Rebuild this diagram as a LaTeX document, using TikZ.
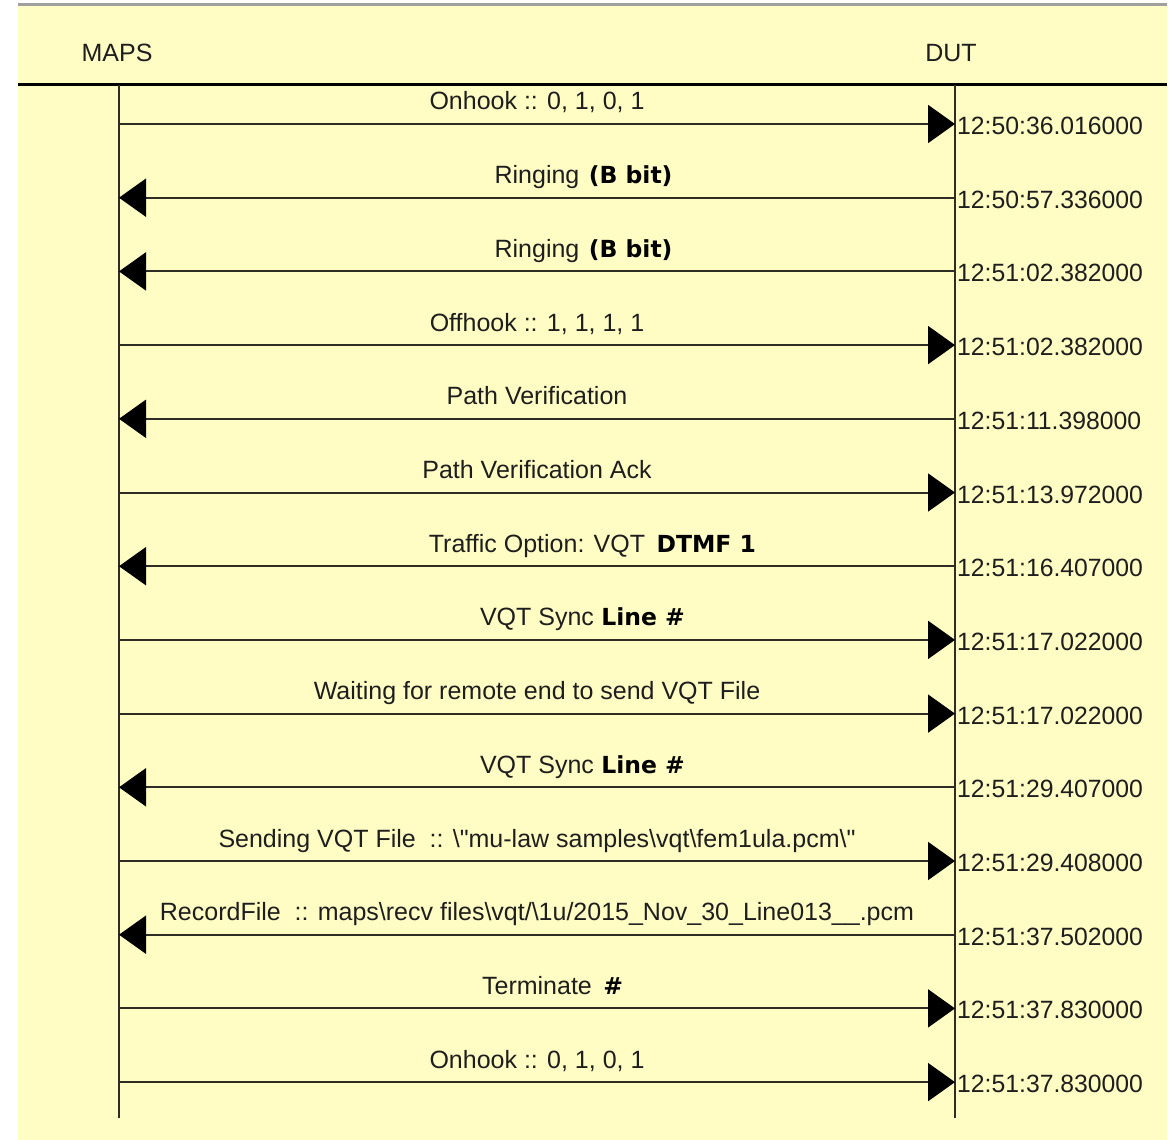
\documentclass[tikz,border=0pt]{standalone}
\usepackage{fontspec}
\setmainfont{Liberation Sans}
\newfontfamily\regfnt{Liberation Sans}
\newfontfamily\tsfont[FakeStretch=0.99]{Liberation Sans}
\newfontfamily\boldfnt{DejaVu Sans}
\usetikzlibrary{arrows.meta}
\definecolor{bgyellow}{RGB}{255,253,196}
\definecolor{linecol}{RGB}{45,45,38}
\definecolor{txtcol}{RGB}{30,30,30}
\definecolor{topgray}{RGB}{160,160,160}
\tikzset{
  lifeline/.style={draw=linecol, line width=2pt},
  msg/.style={draw=linecol, line width=2pt, -{Triangle[length=27pt,width=38pt,color=black]}},
  lbl/.style={inner sep=0pt, anchor=base, text=txtcol, font=\regfnt\fontsize{25}{30}\selectfont},
  blbl/.style={inner sep=0pt, anchor=base west, text=black, font=\boldfnt\bfseries\fontsize{23.5}{28}\selectfont},
  tstamp/.style={inner sep=0pt, anchor=base west, text=txtcol, font=\tsfont\fontsize{25}{30}\selectfont},
  head/.style={inner sep=0pt, anchor=base, text=txtcol, font=\regfnt\fontsize{25}{30}\selectfont},
}
\begin{document}
\begin{tikzpicture}[x=1pt,y=-1pt]
\useasboundingbox (0,0) rectangle (1173,1140);
\fill[white] (0,0) rectangle (1173,1140);
\fill[bgyellow] (18,6) rectangle (1167,1140);
\fill[topgray] (18,3) rectangle (1167,6.5);
\draw[black, line width=3pt] (18,85) -- (1167,85);
% headers
\node[head] (maps) at (117,62) {MAPS};
\node[head] (dut) at (951,62) {DUT};
% lifelines
\coordinate (mtop) at (119,85);
\coordinate (mbot) at (119,1118);
\coordinate (dtop) at (955,85);
\coordinate (dbot) at (955,1118);
\draw[lifeline] (mtop) -- (mbot);
\draw[lifeline] (dtop) -- (dbot);
% message rows
\foreach \i in {1,...,14}{
  \pgfmathsetmacro{\yy}{124+73.7*(\i-1)}
  \coordinate (m\i) at (119,\yy);
  \coordinate (d\i) at (955,\yy);
  \coordinate (c\i) at (537,\yy-14);
  \coordinate (t\i) at (957,\yy+10.5);
}
% arrows
\draw[msg] (m1) -- (d1);
\draw[msg] (d2) -- (m2);
\draw[msg] (d3) -- (m3);
\draw[msg] (m4) -- (d4);
\draw[msg] (d5) -- (m5);
\draw[msg] (m6) -- (d6);
\draw[msg] (d7) -- (m7);
\draw[msg] (m8) -- (d8);
\draw[msg] (m9) -- (d9);
\draw[msg] (d10) -- (m10);
\draw[msg] (m11) -- (d11);
\draw[msg] (d12) -- (m12);
\draw[msg] (m13) -- (d13);
\draw[msg] (m14) -- (d14);
% labels
\node[lbl] (l1) at (c1) {Onhook :: 0, 1, 0, 1};
\node[lbl] (l2) at (c2) {Ringing};
\node[blbl] (b2) at ([xshift=9pt]l2.base east) {(B bit)};
\node[lbl] (l3) at (c3) {Ringing};
\node[blbl] (b3) at ([xshift=9pt]l3.base east) {(B bit)};
\node[lbl] (l4) at (c4) {Offhook :: 1, 1, 1, 1};
\node[lbl] (l5) at (c5) {Path Verification};
\node[lbl] (l6) at (c6) {Path Verification Ack};
\node[lbl] (l7) at (c7) {Traffic Option: VQT};
\node[blbl] (b7) at ([xshift=11pt]l7.base east) {DTMF 1};
\node[lbl] (l8) at (c8) {VQT Sync};
\node[blbl] (b8) at ([xshift=7pt]l8.base east) {Line \#};
\node[lbl] (l9) at (c9) {Waiting for remote end to send VQT File};
\node[lbl] (l10) at (c10) {VQT Sync};
\node[blbl] (b10) at ([xshift=7pt]l10.base east) {Line \#};
\node[lbl] (l11) at (c11) {Sending VQT File \ :: \textbackslash"mu-law samples\textbackslash vqt\textbackslash fem1ula.pcm\textbackslash"};
\node[lbl] (l12) at (c12) {RecordFile \ :: maps\textbackslash recv files\textbackslash vqt/\textbackslash 1u/2015\_Nov\_30\_Line013\_\_.pcm};
\node[lbl] (l13) at (c13) {Terminate};
\node[blbl] (b13) at ([xshift=11pt]l13.base east) {\#};
\node[lbl] (l14) at (c14) {Onhook :: 0, 1, 0, 1};
% timestamps
\node[tstamp] (ts1) at (t1) {12:50:36.016000};
\node[tstamp] (ts2) at (t2) {12:50:57.336000};
\node[tstamp] (ts3) at (t3) {12:51:02.382000};
\node[tstamp] (ts4) at (t4) {12:51:02.382000};
\node[tstamp] (ts5) at (t5) {12:51:11.398000};
\node[tstamp] (ts6) at (t6) {12:51:13.972000};
\node[tstamp] (ts7) at (t7) {12:51:16.407000};
\node[tstamp] (ts8) at (t8) {12:51:17.022000};
\node[tstamp] (ts9) at (t9) {12:51:17.022000};
\node[tstamp] (ts10) at (t10) {12:51:29.407000};
\node[tstamp] (ts11) at (t11) {12:51:29.408000};
\node[tstamp] (ts12) at (t12) {12:51:37.502000};
\node[tstamp] (ts13) at (t13) {12:51:37.830000};
\node[tstamp] (ts14) at (t14) {12:51:37.830000};
\end{tikzpicture}
\end{document}
